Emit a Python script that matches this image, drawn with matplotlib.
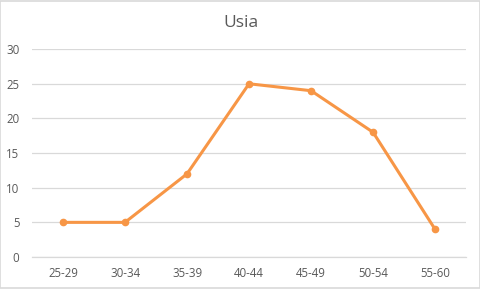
import matplotlib
matplotlib.use("Agg")
import matplotlib.pyplot as plt
from matplotlib.patches import Rectangle

categories = ["25-29", "30-34", "35-39", "40-44", "45-49", "50-54", "55-60"]
values = [5, 5, 12, 25, 24, 18, 4]
yticks = [0, 5, 10, 15, 20, 25, 30]

textColor = "#595959"
gridColor = "#D9D9D9"
lineColor = "#F79646"

plt.rcParams["font.family"] = ["Open Sans", "DejaVu Sans"]

fig = plt.figure(figsize=(4.81, 2.89), dpi=100)
ax = fig.add_axes([0.0665, 0.1107, 0.9025, 0.7193])

x = list(range(len(categories)))
ax.plot(x, values, color=lineColor, linewidth=2.2, marker="o", markersize=4.5,
        solid_capstyle="round", solid_joinstyle="round", zorder=3)

ax.set_xlim(-0.5, len(categories) - 0.5)
ax.set_ylim(0, 30)
ax.set_yticks(yticks)
ax.set_xticks(x)
ax.set_xticklabels(categories)
ax.grid(axis="y", color=gridColor, linewidth=0.9)
ax.set_axisbelow(True)
for s in ["top", "right", "left"]:
    ax.spines[s].set_visible(False)
ax.spines["bottom"].set_color(gridColor)
ax.spines["bottom"].set_linewidth(0.9)
ax.tick_params(axis="both", length=0, labelsize=8.3, labelcolor=textColor)
ax.tick_params(axis="y", pad=9)
ax.tick_params(axis="x", pad=7)

fig.text(0.5, 0.92, "Usia", ha="center", va="center", fontsize=12.5, color=textColor)

fig.patches.append(Rectangle((0.001, 0.002), 0.997, 0.995, transform=fig.transFigure,
                             fill=False, edgecolor=gridColor, linewidth=1.2))

fig.savefig("out.png", dpi=100, facecolor="white")
